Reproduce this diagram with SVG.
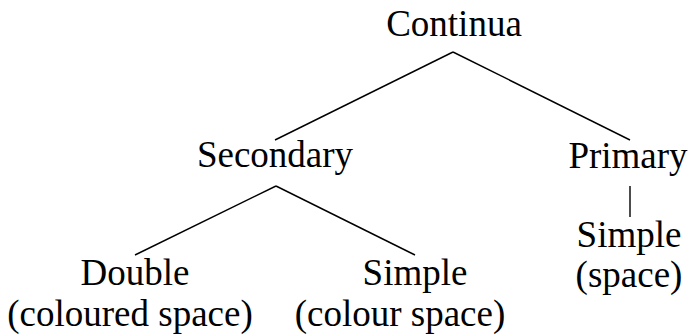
<svg xmlns="http://www.w3.org/2000/svg" width="695" height="336" viewBox="0 0 695 336">
<style>
text{font-family:"Liberation Serif","Times New Roman",serif;font-size:37px;fill:#000;text-anchor:middle}
.e{stroke:#000;stroke-width:1.4;fill:none}
</style>
<rect width="695" height="336" fill="#fff"/>
<g id="connectors">
<line class="e" x1="453" y1="52" x2="275" y2="140"/>
<line class="e" x1="453" y1="52" x2="630" y2="140"/>
<line class="e" x1="276" y1="186" x2="135" y2="255"/>
<line class="e" x1="276" y1="186" x2="415" y2="255"/>
<line class="e" x1="630" y1="186" x2="630" y2="217"/>
</g>
<g id="continua"><text x="454" y="36">Continua</text></g>
<g id="secondary"><text x="275" y="167">Secondary</text></g>
<g id="primary"><text x="628" y="168">Primary</text></g>
<g id="double"><text x="135" y="285">Double</text><text x="130" y="326">(coloured space)</text></g>
<g id="simple-colour"><text x="415" y="285">Simple</text><text x="400" y="326">(colour space)</text></g>
<g id="simple-space"><text x="629" y="247">Simple</text><text x="629" y="287">(space)</text></g>
</svg>
